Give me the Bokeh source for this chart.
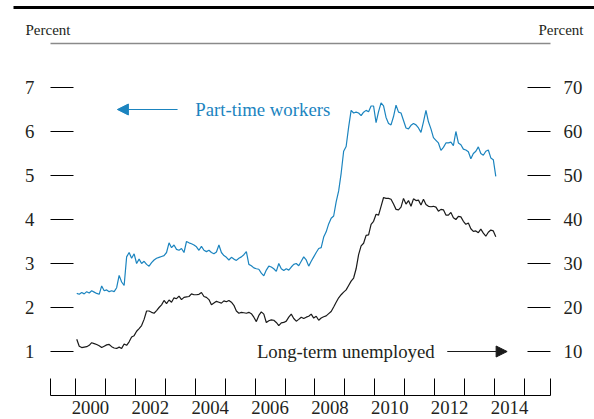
from bokeh.plotting import figure
from bokeh.models import (LinearAxis, Range1d, FixedTicker, Label, Arrow,
                          NormalHead, BoxAnnotation, ColumnDataSource)
from bokeh.embed import file_html
from bokeh.resources import INLINE

# ---------------- data (monthly, Jan 2000 - Jan 2014) ----------------
part_time = [
    2.32, 2.30, 2.34, 2.31, 2.36, 2.33, 2.38, 2.35, 2.32, 2.30, 2.49, 2.38,  # 2000
    2.40, 2.36, 2.38, 2.36, 2.45, 2.73, 2.58, 2.50, 3.15, 3.25, 3.12, 3.22,  # 2001
    3.00, 3.10, 3.00, 3.05, 2.98, 2.94, 3.02, 3.08, 3.12, 3.14, 3.16, 3.18,  # 2002
    3.25, 3.47, 3.36, 3.42, 3.32, 3.30, 3.34, 3.25, 3.50, 3.47, 3.45, 3.42,  # 2003
    3.38, 3.30, 3.39, 3.30, 3.27, 3.30, 3.25, 3.22, 3.26, 3.42, 3.25, 3.18,  # 2004
    3.14, 3.08, 3.14, 3.10, 3.07, 3.12, 3.15, 3.20, 3.27, 2.98, 2.95, 2.90,  # 2005
    2.88, 2.87, 2.78, 2.72, 2.85, 2.94, 2.92, 2.88, 2.82, 3.00, 2.88, 2.84,  # 2006
    2.88, 2.85, 2.92, 2.98, 3.00, 2.95, 3.05, 3.15, 3.08, 2.94, 3.05, 3.15,  # 2007
    3.25, 3.34, 3.36, 3.60, 3.72, 3.90, 4.03, 4.08, 4.40, 4.65, 5.05, 5.55,  # 2008
    5.66, 6.10, 6.48, 6.42, 6.44, 6.42, 6.36, 6.44, 6.48, 6.45, 6.58, 6.58,  # 2009
    6.20, 6.45, 6.65, 6.58, 6.32, 6.18, 6.15, 6.34, 6.60, 6.44, 6.42, 6.25,  # 2010
    6.08, 6.06, 6.14, 6.18, 6.15, 6.08, 5.98, 6.22, 6.48, 6.22, 6.06, 5.86,  # 2011
    5.80, 5.74, 5.57, 5.64, 5.74, 5.74, 5.76, 5.68, 6.00, 5.74, 5.70, 5.60,  # 2012
    5.58, 5.54, 5.38, 5.50, 5.55, 5.65, 5.50, 5.46, 5.55, 5.58, 5.40, 5.36,  # 2013
    4.98,                                                                    # 2014
]

long_term = [
    12.8, 11.2, 10.9, 11.0, 11.1, 11.4, 12.0, 11.8, 11.6, 11.3, 10.9, 11.2,  # 2000
    11.5, 11.6, 11.1, 10.8, 10.7, 11.0, 10.7, 11.7, 11.4, 12.2, 13.3, 13.6,  # 2001
    14.6, 15.2, 15.9, 17.3, 19.2, 19.2, 18.9, 18.7, 19.3, 20.0, 20.6, 21.6,  # 2002
    20.9, 21.7, 21.2, 22.2, 22.0, 22.6, 21.8, 22.3, 22.4, 22.5, 23.1, 22.9,  # 2003
    22.9, 23.0, 23.4, 22.5, 22.3, 21.8, 20.6, 21.0, 21.4, 21.2, 21.0, 21.5,  # 2004
    21.3, 21.6, 21.2, 20.5, 19.2, 18.7, 18.9, 18.8, 18.7, 18.9, 18.6, 17.8,  # 2005
    16.8, 18.2, 19.0, 18.5, 16.6, 17.0, 17.2, 17.1, 16.6, 15.9, 16.5, 16.6,  # 2006
    16.9, 17.8, 18.5, 17.5, 16.9, 17.3, 17.8, 17.5, 17.8, 18.0, 18.5, 17.6,  # 2007
    18.0, 17.1, 17.6, 17.9, 18.1, 18.6, 19.1, 20.1, 21.2, 22.2, 22.9, 23.5,  # 2008
    24.0, 25.0, 26.0, 26.7, 28.8, 32.0, 34.0, 34.6, 36.4, 36.5, 38.9, 39.6,  # 2009
    41.2, 41.0, 43.0, 45.0, 44.8, 44.8, 44.6, 43.5, 42.3, 42.2, 42.8, 44.8,  # 2010
    43.5, 44.3, 43.0, 44.7, 44.3, 44.4, 43.3, 44.6, 43.4, 43.0, 42.9, 43.0,  # 2011
    42.8, 41.9, 42.3, 42.2, 41.0, 41.0, 41.6, 40.4, 40.0, 40.7, 40.6, 39.6,  # 2012
    38.9, 39.2, 37.9, 37.3, 37.4, 37.0, 37.8, 36.9, 36.2, 37.1, 37.6, 37.4,  # 2013
    36.1,                                                                    # 2014
]

start_year, start_month = 2000, 1
dates = [start_year + (start_month - 1 + i + 0.5) / 12 for i in range(len(part_time))]

left_ticks = [1, 2, 3, 4, 5, 6, 7]
right_ticks = [10, 20, 30, 40, 50, 60, 70]
year_boundaries = list(range(2000, 2016))
year_labels = ["2000", "2002", "2004", "2006", "2008", "2010", "2012", "2014"]

# ---------------- layout / styling ----------------
BLUE = "#1b84bf"
INK = "#231f20"
SERIF = "Liberation Serif"
FS = "18.8px"

W, H = 594, 419
x0, x1 = 1999.165, 2015.869          # extent of the x axis
y0, y1 = 0.0, 8.0                    # extent of the left value scale
ax_left, ax_right, ax_top, ax_bottom = 50, 550, 43, 395   # pixel box of the axes
ppx = (ax_right - ax_left) / (x1 - x0)
ppy = (ax_bottom - ax_top) / (y1 - y0)
xr = Range1d(x0 - ax_left / ppx, x1 + (W - ax_right) / ppx)
yr = Range1d(y0 - (H - ax_bottom) / ppy, y1 + ax_top / ppy)

p = figure(width=W, height=H, x_range=xr, y_range=yr,
           output_backend="svg", toolbar_location=None,
           x_axis_location=None, y_axis_location=None,
           min_border=0, outline_line_color=None,
           background_fill_color="white", border_fill_color="white")
p.extra_y_ranges = {"right": Range1d(yr.start * 10, yr.end * 10)}
p.xgrid.visible = False
p.ygrid.visible = False

src = ColumnDataSource(dict(date=dates, pt=part_time, lt=long_term))
p.line("date", "pt", source=src, line_color=BLUE, line_width=1.2)
p.line("date", "lt", source=src, line_color="#1a1a1a", line_width=1.2,
       y_range_name="right")

# x axis (ticks at year boundaries, labels mid-year)
label_pos = [int(s) + 0.5 for s in year_labels]
xa = LinearAxis(fixed_location=y0, bounds=(x0, x1),
                ticker=FixedTicker(ticks=label_pos,
                                   minor_ticks=[x0 + 1e-6] + year_boundaries + [x1 - 1e-6]))
xa.major_label_overrides = {pos: s for pos, s in zip(label_pos, year_labels)}
xa.major_tick_line_color = None
xa.major_tick_in = 0
xa.major_tick_out = 0
xa.minor_tick_in = 17
xa.minor_tick_out = 0
xa.minor_tick_line_color = "black"
xa.minor_tick_line_width = 1
xa.axis_line_color = "black"
xa.axis_line_width = 1
xa.major_label_standoff = 5
xa.major_label_text_font = SERIF
xa.major_label_text_font_size = FS
xa.major_label_text_color = INK
p.add_layout(xa, "below")

def style_y(ax, standoff):
    ax.major_tick_in = 23
    ax.major_tick_out = 0
    ax.major_tick_line_color = "black"
    ax.major_tick_line_width = 1
    ax.minor_tick_line_color = None
    ax.axis_line_color = None
    ax.major_label_standoff = standoff
    ax.major_label_text_font = SERIF
    ax.major_label_text_font_size = FS
    ax.major_label_text_color = INK

ya = LinearAxis(fixed_location=x0, ticker=FixedTicker(ticks=left_ticks))
style_y(ya, 16)
p.add_layout(ya, "left")

ra = LinearAxis(fixed_location=x1, y_range_name="right",
                ticker=FixedTicker(ticks=right_ticks))
style_y(ra, 13)
p.add_layout(ra, "right")

# gray rule along the top of the axes box
ta = LinearAxis(fixed_location=y1, bounds=(x0, x1), ticker=FixedTicker(ticks=[]),
                axis_line_color="#8a8a8a", axis_line_width=1.5,
                major_tick_line_color=None, minor_tick_line_color=None,
                major_label_text_font_size="0px")
p.add_layout(ta, "above")

# thick black rule at the very top
p.add_layout(BoxAnnotation(left=13, right=W, bottom=H - 8.5, top=H - 5.5,
                           left_units="screen", right_units="screen",
                           bottom_units="screen", top_units="screen",
                           fill_color="black", fill_alpha=1, line_color=None))

# "Percent" unit labels
p.add_layout(Label(x=25, y=H - 29, x_units="screen", y_units="screen",
                   text="Percent", text_font=SERIF, text_font_size="15px",
                   text_color=INK, text_baseline="middle"))
p.add_layout(Label(x=583, y=H - 29, x_units="screen", y_units="screen",
                   text="Percent", text_font=SERIF, text_font_size="15px",
                   text_color=INK, text_baseline="middle", text_align="right"))

# series annotations
p.add_layout(Label(x=2004.0, y=6.5, text="Part-time workers", text_font=SERIF,
                   text_font_size=FS, text_color=BLUE, text_baseline="middle"))
p.add_layout(Arrow(x_start=2003.41, y_start=6.5, x_end=2001.40, y_end=6.5,
                   line_color=BLUE, line_width=1.2,
                   end=NormalHead(size=11, fill_color=BLUE, line_color=BLUE)))

p.add_layout(Label(x=2006.06, y=1.0, text="Long-term unemployed", text_font=SERIF,
                   text_font_size=FS, text_color=INK, text_baseline="middle"))
p.add_layout(Arrow(x_start=2012.42, y_start=1.0, x_end=2014.42, y_end=1.0,
                   line_color="#1a1a1a", line_width=1.2,
                   end=NormalHead(size=11, fill_color="#1a1a1a", line_color="#1a1a1a")))

open("out.html", "w").write(file_html(p, INLINE))
